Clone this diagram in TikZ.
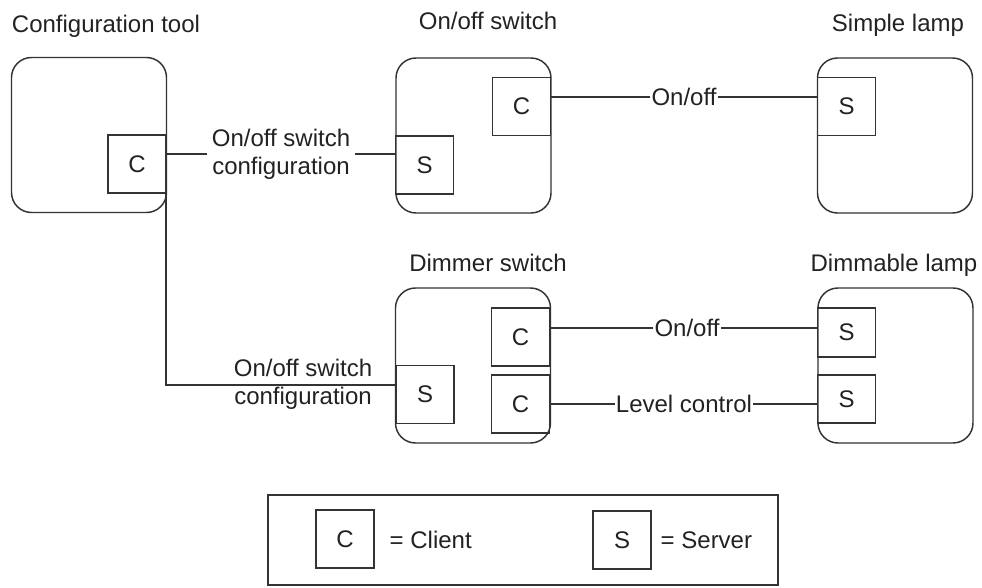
\documentclass[tikz,border=0pt]{standalone}
\usepackage{fontspec}
\setmainfont{Liberation Sans}

\tikzset{every picture/.style={line width=1.1pt}}
\tikzset{
  device/.style={draw={rgb, 255:red, 51; green, 51; blue, 51 }, rounded corners=15pt, minimum width=116.25pt, minimum height=116.25pt, inner sep=0pt, outer sep=0pt},
  port/.style={draw={rgb, 255:red, 51; green, 51; blue, 51 }, minimum width=43.5pt, minimum height=43.5pt, inner sep=0pt, outer sep=0pt},
  wire/.style={draw={rgb, 255:red, 51; green, 51; blue, 51 }},
  tag/.style={inner sep=0.5pt},
}

\begin{document}
\begin{tikzpicture}[x=0.75pt,y=0.75pt,yscale=-1,xscale=1,every node/.style={font=\fontsize{18}{21}\selectfont, text={rgb, 255:red, 34; green, 34; blue, 34 }}]
	\useasboundingbox (0,0) rectangle (982,588); %set diagram to 982 x 588

	%Shape: Rounded Rectangle
	\node[device] (cfg) at (89,135) {};
	\node[device] (onoff) at (473.5,135.5) {};
	\node[device] (lamp) at (895,135.5) {};
	\node[device] (dimmer) at (473,365.5) {};
	\node[device] (dimlamp) at (895.5,365.5) {};

	%Shape: Rectangle (ports)
	\node[port] (cfgC) at (137,164) {C};
	\node[port] (swC) at (521.5,106.5) {C};
	\node[port] (swS) at (424.5,165) {S};
	\node[port] (lampS) at (846.5,106.5) {S};
	\node[port] (dimC1) at (520.5,337) {C};
	\node[port] (dimC2) at (520.5,404) {C};
	\node[port] (dimS) at (425,394.5) {S};
	\node[port, minimum height=36.75pt] (dlS1) at (846.5,332.5) {S};
	\node[port, minimum height=36pt] (dlS2) at (846.5,399) {S};

	% Text Node
	\node[anchor=base] (tCfg) at (106,33) {Configuration tool};
	% Text Node
	\node[anchor=base] (tSw) at (488,30) {On/off switch};
	% Text Node
	\node[anchor=base] (tLamp) at (898,32) {Simple lamp};
	% Text Node
	\node[anchor=base] (tDim) at (488,272) {Dimmer switch};
	% Text Node
	\node[anchor=base] (tDl) at (894,272) {Dimmable lamp};

	% Text Node
	\node[align=center, inner sep=3pt] (cfgA) at (281,154) {On/off switch\\configuration};
	% Text Node
	\node[align=center] (cfgB) at (303,384) {On/off switch\\configuration};
	% Text Node
	\node[tag] (on0) at (684,97) {On/off};
	% Text Node
	\node[tag] (on1) at (687,328) {On/off};
	% Text Node
	\node[tag] (lvl) at (684,404) {Level control};

	%Straight Lines
	\draw[wire] (cfgA.west -| cfgC.east) -- (cfgA.west);
	\draw[wire] (cfgA.east) -- (cfgA.east -| swS.west);
	\coordinate (bend) at (cfgC.south east |- 0,385);
	\draw[wire] (cfgC.south east) -- (bend) -- (bend -| dimS.west);
	\draw[wire] (on0.west -| swC.east) -- (on0.west);
	\draw[wire] (on0.east) -- (on0.east -| lampS.west);
	\draw[wire] (on1.west -| dimC1.east) -- (on1.west);
	\draw[wire] (on1.east) -- (on1.east -| dlS1.west);
	\draw[wire] (dimC2.east) -- (lvl.west);
	\draw[wire] (lvl.east) -- (lvl.east -| dlS2.west);

	%Shape: Rectangle (legend)
	\node[draw={rgb, 255:red, 51; green, 51; blue, 51 }, minimum width=382.5pt, minimum height=67.5pt, inner sep=0pt] (legend) at (523,540) {};
	\node[port] (lgC) at (345,539) {C};
	\node[anchor=west, inner sep=0pt] (lgCt) at (389,540) {= Client};
	\node[port] (lgS) at (622,540) {S};
	\node[anchor=west, inner sep=0pt] (lgSt) at (660,540) {= Server};

\end{tikzpicture}
\end{document}
